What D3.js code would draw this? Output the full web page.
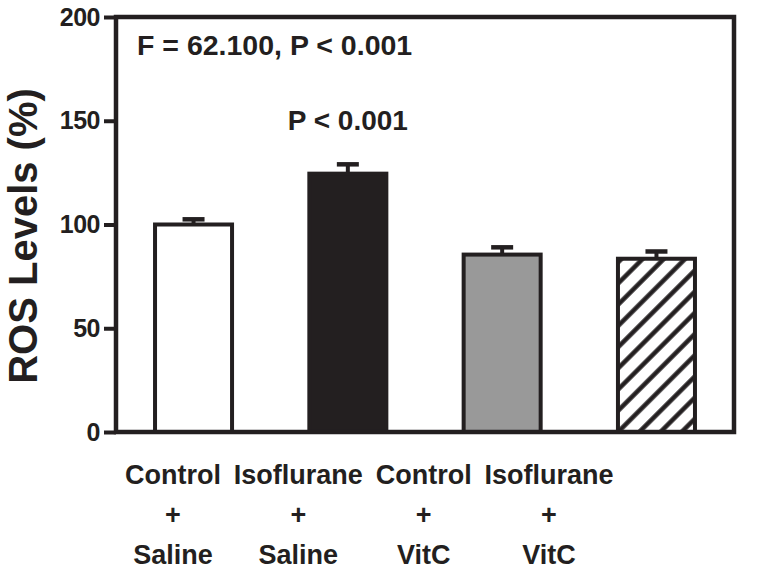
<!DOCTYPE html>
<html>
<head>
<meta charset="utf-8">
<script src="https://cdn.jsdelivr.net/npm/d3@7"></script>
<style>
  html, body { margin: 0; padding: 0; background: #fff; }
  svg { display: block; }
  text { font-family: "Liberation Sans", Arial, Helvetica, sans-serif; font-weight: bold; fill: #231f20; }
</style>
</head>
<body>
<svg id="chart" width="764" height="576"></svg>
<script>
// ---- data ----
const categories = ["Control + Saline", "Isoflurane + Saline", "Control + VitC", "Isoflurane + VitC"];
const labelLines = [["Control", "+", "Saline"], ["Isoflurane", "+", "Saline"], ["Control", "+", "VitC"], ["Isoflurane", "+", "VitC"]];
const means = [100, 124.5, 85.5, 83.5];
const errors = [2.5, 4.5, 3.5, 3.5];
const yTicks = [0, 50, 100, 150, 200];
const yLabel = "ROS Levels (%)";
const anovaText = "F = 62.100, P < 0.001";
const pText = "P < 0.001";

// ---- layout ----
const ink = "#231f20";
const fills = [ "#ffffff", "#231f20", "#999999", "url(#hatch)" ];
const plot = { left: 116, right: 734, top: 17, bottom: 432 };

const svg = d3.select("#chart");

const defs = svg.append("defs");
const pat = defs.append("pattern")
  .attr("id", "hatch")
  .attr("patternUnits", "userSpaceOnUse")
  .attr("width", 15).attr("height", 15)
  .attr("patternTransform", "rotate(45)");
pat.append("rect").attr("width", 15).attr("height", 15).attr("fill", "#fff");
pat.append("line").attr("x1", 7.5).attr("y1", 0).attr("x2", 7.5).attr("y2", 15)
  .attr("stroke", ink).attr("stroke-width", 4.5);

const x = d3.scaleBand().domain(categories).range([plot.left, plot.right]).paddingInner(0.475).paddingOuter(0.24);
const y = d3.scaleLinear().domain([0, 200]).range([plot.bottom, plot.top]);
const xLab = d3.scalePoint().domain(categories).range([173, 549]);

// bars
const g = svg.append("g");
categories.forEach((c, i) => {
  const x0 = x(c), w = x.bandwidth(), cx = x0 + w / 2;
  // error bar
  g.append("line").attr("x1", cx).attr("x2", cx)
    .attr("y1", y(means[i])).attr("y2", y(means[i] + errors[i]))
    .attr("stroke", ink).attr("stroke-width", 4);
  g.append("line").attr("x1", cx - 11).attr("x2", cx + 11)
    .attr("y1", y(means[i] + errors[i])).attr("y2", y(means[i] + errors[i]))
    .attr("stroke", ink).attr("stroke-width", 4.5);
  g.append("rect")
    .attr("x", x0 + 2).attr("width", w - 4)
    .attr("y", y(means[i])).attr("height", y(0) - y(means[i]))
    .attr("fill", fills[i]).attr("stroke", ink).attr("stroke-width", 4);
});

// frame / axes
svg.append("rect")
  .attr("x", plot.left).attr("y", plot.top)
  .attr("width", plot.right - plot.left).attr("height", plot.bottom - plot.top)
  .attr("fill", "none").attr("stroke", ink).attr("stroke-width", 4.5);

const yAxis = svg.append("g")
  .attr("transform", `translate(${plot.left},0)`)
  .call(d3.axisLeft(y).tickValues(yTicks).tickSize(12).tickPadding(4).tickFormat(d3.format("d")));
yAxis.select(".domain").remove();
yAxis.selectAll(".tick line").attr("stroke", ink).attr("stroke-width", 4);
yAxis.selectAll(".tick text")
  .attr("font-size", 25).attr("font-family", null).attr("fill", ink)
  .style("letter-spacing", "-0.5px");

// y label
svg.append("text")
  .attr("transform", "translate(37,236) rotate(-90)")
  .attr("text-anchor", "middle")
  .attr("font-size", 40)
  .text(yLabel);

// annotations
svg.append("text").attr("x", 137).attr("y", 55).attr("font-size", 28.5).text(anovaText);
svg.append("text").attr("x", x(categories[1]) + x.bandwidth() / 2).attr("y", 130)
  .attr("text-anchor", "middle").attr("font-size", 28).text(pText);

// x labels
categories.forEach((c, i) => {
  const t = svg.append("text").attr("text-anchor", "middle").attr("font-size", 27);
  labelLines[i].forEach((s, j) => {
    t.append("tspan").attr("x", xLab(c)).attr("y", 484 + j * 40).text(s);
  });
});
</script>
</body>
</html>
